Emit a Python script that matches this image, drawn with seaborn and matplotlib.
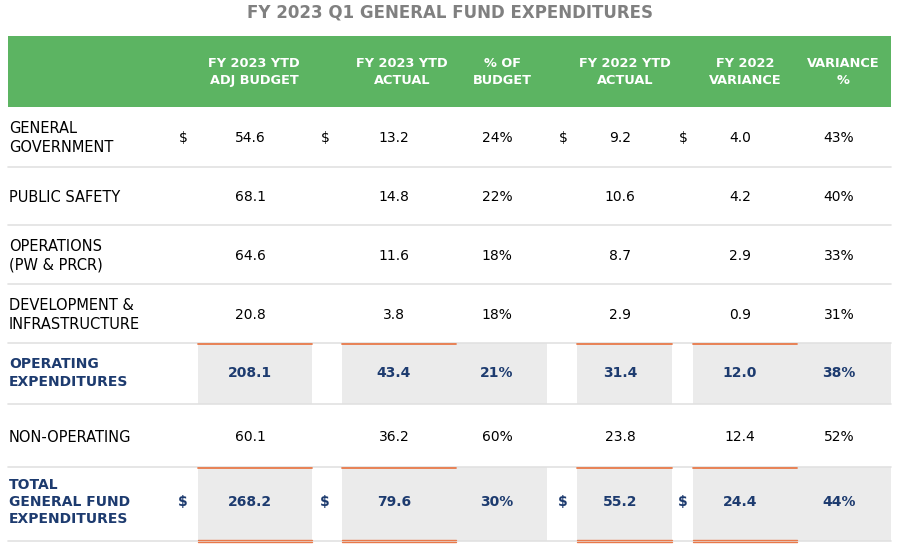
import matplotlib
matplotlib.use("Agg")
import matplotlib.pyplot as plt
import seaborn as sns
import pandas as pd

# table values
row_labels = ["GENERAL\nGOVERNMENT", "PUBLIC SAFETY", "OPERATIONS\n(PW & PRCR)",
              "DEVELOPMENT &\nINFRASTRUCTURE", "OPERATING\nEXPENDITURES",
              "NON-OPERATING", "TOTAL\nGENERAL FUND\nEXPENDITURES"]
adj_budget_2023 = [54.6, 68.1, 64.6, 20.8, 208.1, 60.1, 268.2]
ytd_actual_2023 = [13.2, 14.8, 11.6, 3.8, 43.4, 36.2, 79.6]
pct_of_budget = [24, 22, 18, 18, 21, 60, 30]
ytd_actual_2022 = [9.2, 10.6, 8.7, 2.9, 31.4, 23.8, 55.2]
variance_2022 = [4.0, 4.2, 2.9, 0.9, 12.0, 12.4, 24.4]
variance_pct = [43, 40, 33, 31, 38, 52, 44]
col_headers = ["FY 2023 YTD\nADJ BUDGET", "FY 2023 YTD\nACTUAL", "% OF\nBUDGET",
               "FY 2022 YTD\nACTUAL", "FY 2022\nVARIANCE", "VARIANCE\n%"]
subtotal_rows = ["OPERATING\nEXPENDITURES", "TOTAL\nGENERAL FUND\nEXPENDITURES"]
dollar_rows = ["GENERAL\nGOVERNMENT", "TOTAL\nGENERAL FUND\nEXPENDITURES"]
title = "FY 2023 Q1 GENERAL FUND EXPENDITURES"

df = pd.DataFrame({
    col_headers[0]: adj_budget_2023,
    col_headers[1]: ytd_actual_2023,
    col_headers[2]: pct_of_budget,
    col_headers[3]: ytd_actual_2022,
    col_headers[4]: variance_2022,
    col_headers[5]: variance_pct,
}, index=row_labels)
is_pct = [False, False, True, False, False, True]

# layout (pixel coordinates)
GREEN = "#5cb462"
NAVY = "#1d3b6f"
GREY_FILL = "#ebebeb"
ORANGE = "#e8794a"
RULE = "#e1e1e1"

sns.set_theme(style="white")
plt.rcParams["font.family"] = ["DejaVu Sans"]

fig = plt.figure(figsize=(9, 5.55), dpi=100)
ax = fig.add_axes([0, 0, 1, 1])
ax.set_xlim(0, 900)
ax.set_ylim(555, 0)
ax.axis("off")

left, right = 8, 891
hdr_top, hdr_bot = 36, 107
val_x = [250, 394, 497, 620, 740, 839]
hdr_x = [254, 402, 502, 625, 745, 843]
dollar_x = [183, 325, None, 563, 683, None]
row_y = [138, 197, 256, 315, 373, 437, 502]
row_bot = [167, 225, 284, 343, 404, 467, 541]
row_top = [107] + row_bot[:-1]
# shaded spans for subtotal rows, and spans with orange rules
shade_spans = [(198, 312), (342, 547), (577, 672), (693, 891)]
rule_spans = [(198, 312), (342, 456), (577, 672), (693, 797)]

ax.text(450, 12, title, ha="center", va="center", fontsize=12,
        fontweight="bold", color="#808080")

ax.add_patch(plt.Rectangle((left, hdr_top), right - left, hdr_bot - hdr_top,
                           color=GREEN, lw=0))
for x, h in zip(hdr_x, df.columns):
    ax.text(x, 72, h, ha="center", va="center", fontsize=9.3, fontweight="bold",
            color="white", linespacing=1.45)

for i, label in enumerate(df.index):
    y = row_y[i]
    bold = label in subtotal_rows
    color = NAVY if bold else "black"
    weight = "bold" if bold else "normal"
    if bold:
        for a, b in shade_spans:
            ax.add_patch(plt.Rectangle((a, row_top[i]), b - a, row_bot[i] - row_top[i],
                                       color=GREY_FILL, lw=0, zorder=0))
        for a, b in rule_spans:
            ax.plot([a, b], [row_top[i] + 0.5] * 2, color=ORANGE, lw=1.3, zorder=2)
    ax.plot([left, right], [row_bot[i]] * 2, color=RULE, lw=1.2, zorder=1)
    ax.text(9, y, label, ha="left", va="center", fontsize=10 if bold else 10.5,
            color=color, fontweight=weight, linespacing=1.3)
    for j, col in enumerate(df.columns):
        v = df.loc[label, col]
        s = f"{v:.0f}%" if is_pct[j] else f"{v:.1f}"
        ax.text(val_x[j], y, s, ha="center", va="center", fontsize=10,
                color=color, fontweight=weight)
        if label in dollar_rows and dollar_x[j] is not None:
            ax.text(dollar_x[j], y, "$", ha="center", va="center", fontsize=10,
                    color=color, fontweight=weight)

# double rule under the grand total
last = len(row_labels) - 1
for a, b in rule_spans:
    ax.plot([a, b], [row_bot[last] - 1.5] * 2, color=ORANGE, lw=1.0, zorder=2)
    ax.plot([a, b], [row_bot[last] + 1.0] * 2, color=ORANGE, lw=1.0, zorder=2)

fig.savefig("out.png", dpi=100)
